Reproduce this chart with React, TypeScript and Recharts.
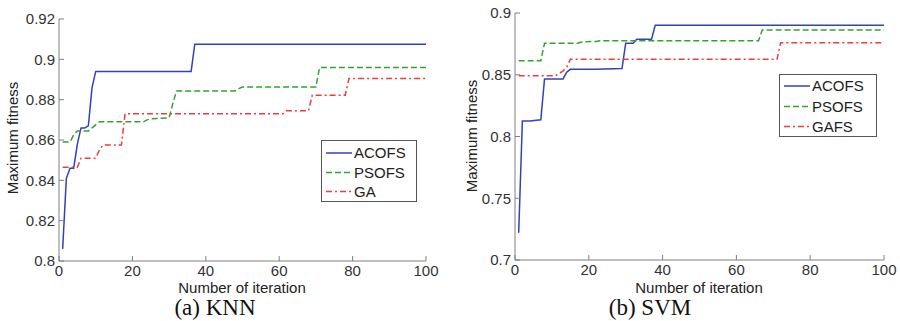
import React from 'react'
import { LineChart, Line, XAxis, YAxis, Legend } from 'recharts'

// iteration ticks shared by both panels
const iterTicks = [0, 20, 40, 60, 80, 100]
const knnTicks = [0.8, 0.82, 0.84, 0.86, 0.88, 0.9, 0.92]
const svmTicks = [0.7, 0.75, 0.8, 0.85, 0.9]

// (a) KNN — [iteration, max fitness] read at the step corners
const knnAcofs = [
  [1, 0.806], [2, 0.841], [3, 0.846], [4, 0.846], [5, 0.858], [6, 0.866], [7, 0.866],
  [8, 0.867], [9, 0.886], [10, 0.894], [36, 0.894], [37, 0.9075], [100, 0.9075],
]
const knnPsofs = [
  [1, 0.859], [3, 0.859], [4, 0.8625], [5, 0.8645], [8, 0.8645], [9, 0.866], [10, 0.8675],
  [11, 0.869], [23, 0.869], [24, 0.870], [25, 0.8705], [30, 0.871], [31, 0.878],
  [32, 0.8843], [48, 0.8843], [49, 0.8855], [50, 0.8863], [70, 0.8863], [71, 0.896], [100, 0.896],
]
const knnGa = [
  [1, 0.8465], [5, 0.8465], [6, 0.851], [10, 0.851], [11, 0.855], [12, 0.8575], [17, 0.8575],
  [18, 0.873], [61, 0.873], [62, 0.8745], [68, 0.8745], [69, 0.8822], [78, 0.8822],
  [79, 0.8905], [100, 0.8905],
]

// (b) SVM
const svmAcofs = [
  [1, 0.722], [2, 0.8125], [4, 0.8125], [7, 0.8135], [8, 0.8466], [13, 0.8466], [14, 0.852],
  [15, 0.8544], [22, 0.8545], [29, 0.855], [30, 0.8755], [32, 0.8755], [33, 0.8787],
  [37, 0.8787], [38, 0.89], [100, 0.89],
]
const svmPsofs = [
  [1, 0.8614], [7, 0.8614], [8, 0.8755], [17, 0.8755], [18, 0.8765], [22, 0.877], [23, 0.8775],
  [66, 0.8775], [67, 0.8862], [100, 0.8862],
]
const svmGafs = [
  [1, 0.8492], [11, 0.8492], [13, 0.853], [14, 0.856], [15, 0.8625], [71, 0.8625],
  [72, 0.876], [100, 0.876],
]

const knnNames = ['ACOFS', 'PSOFS', 'GA']
const svmNames = ['ACOFS', 'PSOFS', 'GAFS']

const colors = ['#3242b8', '#36a036', '#f03c3c']
const dashes = [undefined, '6 3', '6 3 2 3']

const FONT = '"Liberation Sans", Arial, sans-serif'
const AXIS = '#808080'

const toPoints = (s: number[][]) => s.map(([i, v]) => ({ i, v }))

function LegendBox({ names, w, h, rows }: { names: string[]; w: number; h: number; rows: number[] }) {
  return (
    <svg width={w} height={h} style={{ display: 'block' }}>
      <rect x={0.5} y={0.5} width={w - 1} height={h - 1} fill="#fff" stroke="#555" />
      {names.map((n, k) => (
        <g key={n}>
          <line x1={5} x2={31} y1={rows[k]} y2={rows[k]} stroke={colors[k]} strokeWidth={1.5} strokeDasharray={dashes[k]} />
          <text x={33} y={rows[k]} dy="0.36em" fontSize={15} fill="#222" fontFamily={FONT}>{n}</text>
        </g>
      ))}
    </svg>
  )
}

type PanelProps = {
  series: number[][][]
  names: string[]
  domain: [number, number]
  ticks: number[]
  width: number
  top: number
  right: number
  yWidth: number
  xHeight: number
  legend: { left: number; top: number; w: number; h: number; rows: number[] }
}

function Panel(p: PanelProps) {
  return (
    <LineChart width={p.width} height={300} margin={{ top: p.top, right: p.right, left: 0, bottom: 0 }}>
      <XAxis
        xAxisId="b"
        dataKey="i"
        type="number"
        domain={[0, 100]}
        ticks={iterTicks}
        interval={0}
        height={p.xHeight}
        tickSize={-5}
        tickMargin={9}
        axisLine={{ stroke: AXIS }}
        tickLine={{ stroke: AXIS }}
        tick={{ fontSize: 15, fill: '#333', fontFamily: FONT }}
      />
      <XAxis
        xAxisId="t"
        orientation="top"
        dataKey="i"
        type="number"
        domain={[0, 100]}
        ticks={iterTicks}
        interval={0}
        height={0}
        mirror
        tickSize={5}
        axisLine={{ stroke: AXIS }}
        tickLine={{ stroke: AXIS }}
        tick={() => <g />}
      />
      <YAxis
        yAxisId="l"
        type="number"
        domain={p.domain}
        ticks={p.ticks}
        interval={0}
        width={p.yWidth}
        tickSize={-5}
        tickMargin={9}
        allowDataOverflow
        axisLine={{ stroke: AXIS }}
        tickLine={{ stroke: AXIS }}
        tickFormatter={(v: number) => String(v)}
        tick={{ fontSize: 15, fill: '#333', fontFamily: FONT }}
      />
      <YAxis
        yAxisId="r"
        orientation="right"
        type="number"
        domain={p.domain}
        ticks={p.ticks}
        interval={0}
        width={0}
        mirror
        tickSize={5}
        allowDataOverflow
        axisLine={{ stroke: AXIS }}
        tickLine={{ stroke: AXIS }}
        tick={() => <g />}
      />
      {p.series.map((s, k) => (
        <Line
          key={p.names[k]}
          xAxisId="b"
          yAxisId="l"
          data={toPoints(s)}
          dataKey="v"
          name={p.names[k]}
          type="linear"
          stroke={colors[k]}
          strokeWidth={1.5}
          strokeDasharray={dashes[k]}
          dot={false}
          activeDot={false}
          isAnimationActive={false}
        />
      ))}
      <Legend
        layout="vertical"
        align="center"
        verticalAlign="middle"
        wrapperStyle={{ left: p.legend.left, top: p.legend.top, width: p.legend.w }}
        content={() => <LegendBox names={p.names} w={p.legend.w} h={p.legend.h} rows={p.legend.rows} />}
      />
    </LineChart>
  )
}

const abs = (left: number, top: number, extra: React.CSSProperties = {}): React.CSSProperties => ({
  position: 'absolute',
  left,
  top,
  whiteSpace: 'nowrap',
  lineHeight: 1,
  ...extra,
})

export default function App() {
  const axisTitle = { fontFamily: FONT, fontSize: 15, color: '#222' }
  const caption = { fontFamily: '"Liberation Serif", "Times New Roman", serif', fontSize: 23, color: '#111' }
  return (
    <div style={{ position: 'absolute', left: 0, top: 0, width: 900, height: 321, background: '#fff', overflow: 'hidden' }}>
      <div style={abs(0, 0)}>
        <Panel
          series={[knnAcofs, knnPsofs, knnGa]}
          names={knnNames}
          domain={[0.8, 0.92]}
          ticks={knnTicks}
          width={440}
          top={19}
          right={14}
          yWidth={59}
          xHeight={39}
          legend={{ left: 321, top: 140, w: 96, h: 62, rows: [13, 32.5, 51.5] }}
        />
      </div>
      <div style={abs(450, 0)}>
        <Panel
          series={[svmAcofs, svmPsofs, svmGafs]}
          names={svmNames}
          domain={[0.7, 0.9]}
          ticks={svmTicks}
          width={450}
          top={13}
          right={16}
          yWidth={65}
          xHeight={40}
          legend={{ left: 329, top: 74, w: 98, h: 63, rows: [12, 32.5, 52.5] }}
        />
      </div>

      <div style={abs(12, 137.5, { ...axisTitle, transform: 'translate(-50%, -50%) rotate(-90deg)' })}>Maximum fitness</div>
      <div style={abs(470.5, 136, { ...axisTitle, transform: 'translate(-50%, -50%) rotate(-90deg)' })}>Maximum fitness</div>
      <div style={abs(242, 280, { ...axisTitle, transform: 'translateX(-50%)' })}>Number of iteration</div>
      <div style={abs(699, 280, { ...axisTitle, transform: 'translateX(-50%)' })}>Number of iteration</div>

      <div style={abs(215, 295.5, { ...caption, transform: 'translateX(-50%)' })}>(a) KNN</div>
      <div style={abs(650, 295.5, { ...caption, transform: 'translateX(-50%)' })}>(b) SVM</div>
    </div>
  )
}
